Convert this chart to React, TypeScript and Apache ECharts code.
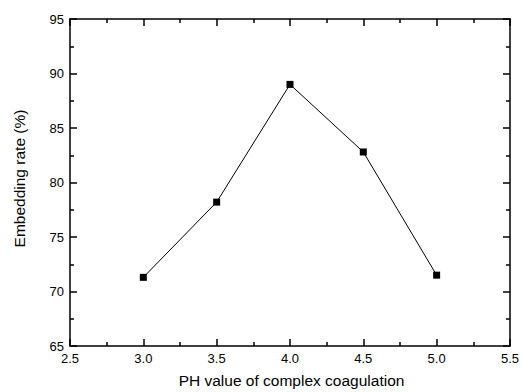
import React, { useEffect, useRef } from "react";
import * as echarts from "echarts";

// Coagulation pH and measured embedding rate
const phValues = [3.0, 3.5, 4.0, 4.5, 5.0];
const embeddingRate = [71.3, 78.2, 89.0, 82.8, 71.5];

const xTitle = "PH value of complex coagulation";
const yTitle = "Embedding rate (%)";

const FONT = "'Liberation Sans', Arial, sans-serif";

export default function App() {
  const ref = useRef<HTMLDivElement>(null);

  useEffect(() => {
    if (!ref.current) return;
    const chart = echarts.init(ref.current, undefined, { renderer: "svg" });

    const axisLine = { show: true, onZero: false, lineStyle: { color: "#000", width: 1.5 } };
    const axisTick = { show: true, inside: true, length: 7, lineStyle: { color: "#000", width: 1.5 } };
    const minorTick = { show: true, splitNumber: 2, length: 4, lineStyle: { color: "#000", width: 1.5 } };
    const axisLabel = { color: "#000", fontSize: 13, fontFamily: FONT };

    const xBase = { type: "value" as const, min: 2.5, max: 5.5, interval: 0.5, splitLine: { show: false }, axisLine, axisTick, minorTick };
    const yBase = { type: "value" as const, min: 65, max: 95, interval: 5, splitLine: { show: false }, axisLine, axisTick, minorTick };

    chart.setOption({
      animation: false,
      backgroundColor: "#fff",
      grid: { left: 70, right: 10, top: 19, bottom: 46 },
      xAxis: [
        { ...xBase, position: "bottom", axisLabel: { ...axisLabel, margin: 6, formatter: (v: number) => v.toFixed(1) } },
        { ...xBase, position: "top", axisLabel: { show: false } },
      ],
      yAxis: [
        { ...yBase, position: "left", axisLabel: { ...axisLabel, margin: 6 } },
        { ...yBase, position: "right", axisLabel: { show: false } },
      ],
      graphic: [
        {
          type: "text",
          x: 291.5,
          y: 380,
          style: { text: xTitle, fill: "#000", font: `15.5px ${FONT}`, align: "center", verticalAlign: "middle" },
        },
        {
          type: "text",
          x: 19,
          y: 178.5,
          rotation: Math.PI / 2,
          style: { text: yTitle, fill: "#000", font: `15.5px ${FONT}`, align: "center", verticalAlign: "middle" },
        },
      ],
      series: [
        {
          type: "line",
          xAxisIndex: 0,
          yAxisIndex: 0,
          data: phValues.map((x, i) => [x, embeddingRate[i]]),
          symbol: "rect",
          symbolSize: 7,
          lineStyle: { color: "#000", width: 1 },
          itemStyle: { color: "#000" },
        },
      ],
    });

    return () => chart.dispose();
  }, []);

  return <div ref={ref} style={{ position: "fixed", left: 0, top: 0, width: 522, height: 392 }} />;
}
